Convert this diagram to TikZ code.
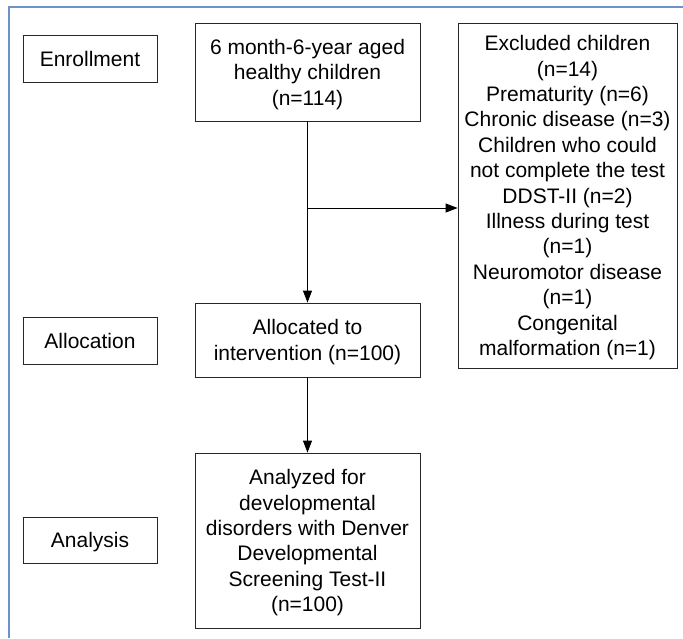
\documentclass[tikz,border=0pt]{standalone}
\usepackage{fontspec}
\setmainfont{Liberation Sans}
\usetikzlibrary{arrows.meta}
\definecolor{frameblue}{RGB}{110,145,205}
\tikzset{
  box/.style={draw=black!85, line width=0.8pt, align=center, inner sep=0pt,
    text depth=0pt, font=\fontsize{21}{25.4}\selectfont},
  stage/.style={box, minimum width=134pt, minimum height=47pt},
  flow/.style={>={Triangle[length=12pt,width=9pt]}, ->, line width=0.8pt}
}
\begin{document}
\begin{tikzpicture}[x=1pt,y=-1pt]
\fill[white] (0,0) rectangle (683,638);
\useasboundingbox (0,0) rectangle (683,638);
\draw[frameblue, line width=1.5pt] (9,638) -- (9,7) -- (683,7);
% stage labels
\node[stage] (enroll) at (90,58.5) {Enrollment};
\node[stage] (alloc) at (90,340.5) {Allocation};
\node[stage, minimum height=46pt] (analysis) at (90,540) {Analysis};
% main flow
\node[box, minimum width=225pt, minimum height=98pt] (healthy) at (307.5,72)
  {6 month-6-year aged\\healthy children\\(n=114)};
\node[box, minimum width=219pt, minimum height=345pt] (excluded) at (567.5,195.5)
  {Excluded children\\(n=14)\\Prematurity (n=6)\\Chronic disease (n=3)\\Children who could\\not complete the test\\DDST-II (n=2)\\Illness during test\\(n=1)\\Neuromotor disease\\(n=1)\\Congenital\\malformation (n=1)};
\node[box, minimum width=225pt, minimum height=74pt] (allocated) at (307.5,340)
  {Allocated to\\intervention (n=100)};
\node[box, minimum width=225pt, minimum height=175pt] (analyzed) at (307.5,540.5)
  {Analyzed for\\developmental\\disorders with Denver\\Developmental\\Screening Test-II\\(n=100)};
\coordinate (split) at (307.5,208);
\draw[flow] (healthy.south) -- (allocated.north);
\draw[flow] (split) -- (split -| excluded.west);
\draw[flow] (allocated.south) -- (analyzed.north);
\end{tikzpicture}
\end{document}
